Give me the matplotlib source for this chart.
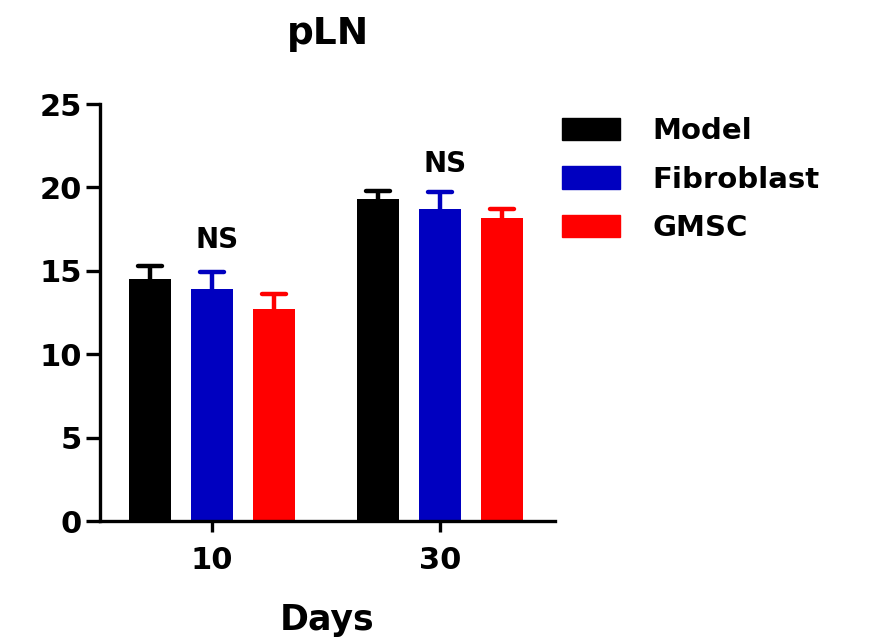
import numpy as np
import matplotlib
matplotlib.use("Agg")
import matplotlib.pyplot as plt
from matplotlib.patches import Patch

# pLN values per group (mean and upper SEM)
days = ["10", "30"]
groups = ["Model", "Fibroblast", "GMSC"]
colors = ["#000000", "#0000C0", "#FF0000"]
means = {
    "Model": [14.5, 19.3],
    "Fibroblast": [13.9, 18.7],
    "GMSC": [12.7, 18.2],
}
sems = {
    "Model": [0.8, 0.5],
    "Fibroblast": [1.05, 1.05],
    "GMSC": [0.9, 0.5],
}
sig_labels = ["NS", "NS"]

plt.rcParams["font.family"] = "DejaVu Sans"
plt.rcParams["font.weight"] = "bold"

fig = plt.figure(figsize=(8.72, 6.4), dpi=100)
ax = fig.add_axes([0.1147, 0.1852, 0.5218, 0.6523])

x = np.arange(len(days))
width = 0.184
step = 0.272
cap = 0.052
for i, g in enumerate(groups):
    xs = x + (i - 1) * step
    m = np.array(means[g])
    tops = m + np.array(sems[g])
    ax.bar(xs, m, width=width, color=colors[i], zorder=2)
    # upper-only error bars
    ax.vlines(xs, m, tops, color=colors[i], linewidth=3.2, zorder=1)
    ax.hlines(tops, xs - cap, xs + cap, color=colors[i], linewidth=3.2,
              zorder=1, capstyle="round")

# significance labels above each group
for j in range(len(days)):
    top = max(means[g][j] + sems[g][j] for g in groups)
    ax.text(x[j] + 0.02, top + 1.1, sig_labels[j], ha="center", va="baseline",
            fontsize=20, fontweight="bold")

ax.set_xlim(-0.491, 1.504)
ax.set_ylim(0, 25)
ax.set_yticks(range(0, 26, 5))
ax.set_xticks(x)
ax.set_xticklabels(days)

for side in ["top", "right"]:
    ax.spines[side].set_visible(False)
for side in ["left", "bottom"]:
    ax.spines[side].set_linewidth(2.4)
ax.tick_params(axis="y", length=10, width=2.4, pad=3, labelsize=22)
ax.tick_params(axis="x", length=8, width=2.4, pad=10, labelsize=22)

ax.set_title("pLN", fontsize=27, fontweight="bold", pad=43)
ax.set_xlabel("Days", fontsize=25, fontweight="bold", labelpad=20)

handles = [Patch(facecolor=c, edgecolor=c) for c in colors]
fig.legend(handles, groups, loc="upper left", bbox_to_anchor=(0.614, 0.858),
           frameon=False, fontsize=21, handlelength=2.0, handleheight=0.8,
           handletextpad=1.1, labelspacing=0.7)

fig.savefig("out.png", dpi=100)
